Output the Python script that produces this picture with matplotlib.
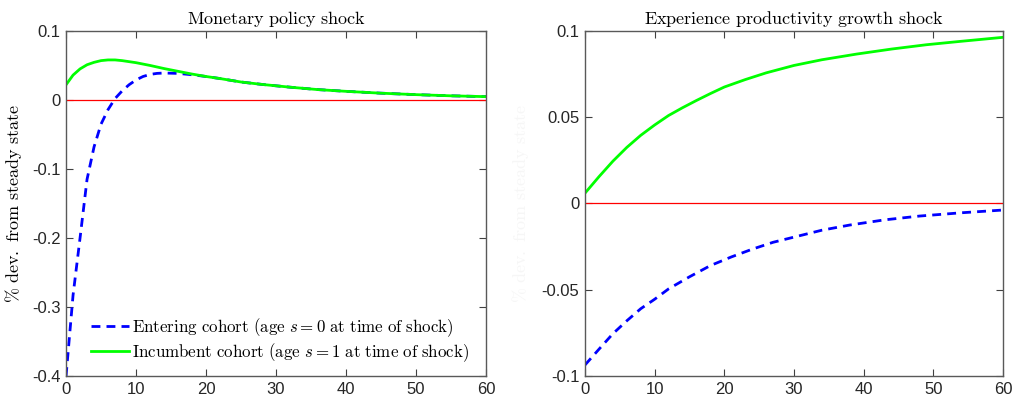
import matplotlib
matplotlib.use('Agg')
import matplotlib.pyplot as plt
import numpy as np

plt.rcParams['mathtext.fontset'] = 'cm'
plt.rcParams['axes.unicode_minus'] = False
plt.rcParams['font.family'] = 'Liberation Sans'

# monetary policy shock (left panel)
x_enter_mp = [0, 1, 2, 3, 4, 5, 6, 7, 8, 9, 10, 11, 12, 13, 14, 16, 18, 20,
              22, 25, 28, 32, 36, 40, 45, 50, 55, 60]
y_enter_mp = [-0.40, -0.283, -0.20, -0.115, -0.068, -0.035, -0.014, 0.002, 0.013, 0.022,
              0.029, 0.034, 0.037, 0.0385, 0.039, 0.0385, 0.0365, 0.034,
              0.031, 0.026, 0.0225, 0.0185, 0.015, 0.0125, 0.0098, 0.0077, 0.006, 0.0048]
x_inc_mp = [0, 1, 2, 3, 4, 5, 6, 7, 8, 9, 10, 12, 14, 16, 18, 20,
            22, 25, 28, 32, 36, 40, 45, 50, 55, 60]
y_inc_mp = [0.022, 0.036, 0.045, 0.051, 0.0545, 0.057, 0.058, 0.058, 0.057, 0.0555,
            0.054, 0.050, 0.0455, 0.0415, 0.0375, 0.034,
            0.031, 0.026, 0.0225, 0.0185, 0.015, 0.0125, 0.0098, 0.0077, 0.006, 0.0048]

# experience productivity growth shock (right panel)
x_enter_xp = [0, 2, 4, 6, 8, 10, 12, 15, 18, 21, 24, 27, 30, 34, 38, 43, 48, 54, 60]
y_enter_xp = [-0.0936, -0.0845, -0.0755, -0.068, -0.061, -0.0555, -0.0495, -0.0425, -0.036,
              -0.031, -0.0265, -0.0225, -0.0195, -0.0155, -0.0125, -0.0095, -0.0073,
              -0.0054, -0.0038]
x_inc_xp = [0, 2, 4, 6, 8, 10, 12, 14, 16, 18, 20, 23, 26, 30, 34, 39, 44, 49, 54, 60]
y_inc_xp = [0.006, 0.0155, 0.0245, 0.0325, 0.0395, 0.0455, 0.051, 0.0555, 0.0597, 0.0637,
            0.0675, 0.0718, 0.0757, 0.080, 0.0833, 0.0866, 0.0895, 0.092, 0.094, 0.0963]

lab_enter = r'$\mathrm{Entering\ cohort\ (age\ }s=0\mathrm{\ at\ time\ of\ shock)}$'
lab_inc = r'$\mathrm{Incumbent\ cohort\ (age\ }s=1\mathrm{\ at\ time\ of\ shock)}$'
ylab = r'$\%\mathrm{\ dev.\ from\ steady\ state}$'

fig = plt.figure(figsize=(10.13, 4.05), dpi=100)
ax1 = fig.add_axes([0.0652, 0.0716, 0.4146, 0.852])
ax2 = fig.add_axes([0.5775, 0.0716, 0.4126, 0.852])


def style(ax):
    for s in ax.spines.values():
        s.set_color('0.35')
        s.set_linewidth(1.0)
    ax.tick_params(direction='in', top=True, right=True, length=5, width=0.8,
                   color='0.25', labelsize=12, labelcolor='#262626', pad=4)
    ax.set_xlim(0, 60)
    ax.set_xticks(range(0, 61, 10))


ax1.plot([0, 60], [0, 0], color='red', lw=0.9)
ax1.plot(x_enter_mp, y_enter_mp, color='blue', lw=2, ls='--', dashes=(3.2, 2.2), label=lab_enter)
ax1.plot(x_inc_mp, y_inc_mp, color='#00ff00', lw=2, label=lab_inc)
style(ax1)
ax1.set_ylim(-0.4, 0.1)
ax1.set_yticks([-0.4, -0.3, -0.2, -0.1, 0, 0.1])
ax1.set_yticklabels(['-0.4', '-0.3', '-0.2', '-0.1', '0', '0.1'])
ax1.set_title(r'$\mathrm{Monetary\ policy\ shock}$', fontsize=13, pad=5)
ax1.set_ylabel(ylab, fontsize=13, labelpad=6)
ax1.legend(loc='lower left', frameon=False, fontsize=12.2, handlelength=2.3,
           handletextpad=0.15, borderaxespad=0.3, labelspacing=0.15,
           bbox_to_anchor=(0.03, 0.0))

ax2.plot([0, 60], [0, 0], color='red', lw=0.9)
ax2.plot(x_enter_xp, y_enter_xp, color='blue', lw=2, ls='--', dashes=(3.2, 2.2))
ax2.plot(x_inc_xp, y_inc_xp, color='#00ff00', lw=2)
style(ax2)
ax2.set_ylim(-0.1, 0.1)
ax2.set_yticks([-0.1, -0.05, 0, 0.05, 0.1])
ax2.set_yticklabels(['-0.1', '-0.05', '0', '0.05', '0.1'])
ax2.set_title(r'$\mathrm{Experience\ productivity\ growth\ shock}$', fontsize=13, pad=5)
ax2.set_ylabel(ylab, fontsize=13, labelpad=8, color='0.965')

fig.savefig('out.png', dpi=100)
